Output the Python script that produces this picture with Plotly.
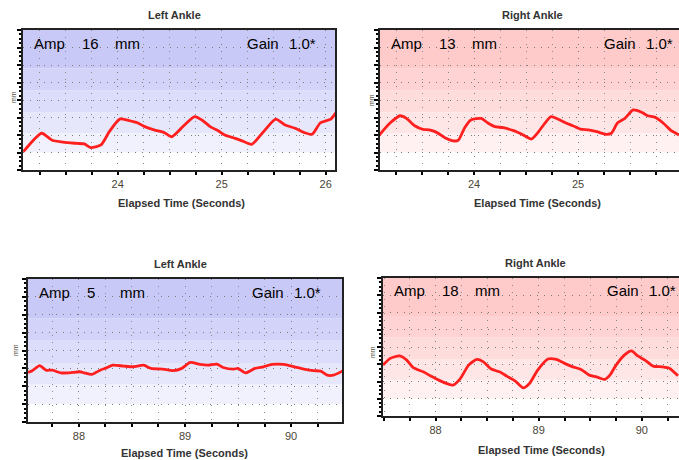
import plotly.graph_objects as go

W, H = 679, 460

# ---------------- data ----------------
t_top_left = [23.094, 23.27, 23.37, 23.52, 23.61, 23.68, 23.74, 23.84, 23.92, 24.02, 24.11, 24.19,
              24.26, 24.35, 24.45, 24.52, 24.61, 24.74, 24.81, 24.89, 24.97, 25.03, 25.13, 25.19,
              25.29, 25.39, 25.52, 25.61, 25.71, 25.79, 25.87, 25.95, 26.05, 26.11]
v_top_left = [1.05, 2.1, 1.7, 1.56, 1.52, 1.49, 1.28, 1.43, 2.19, 2.91, 2.82, 2.70,
              2.48, 2.29, 2.13, 1.90, 2.38, 3.05, 2.86, 2.48, 2.23, 2.0, 1.81, 1.68,
              1.47, 2.1, 2.91, 2.57, 2.38, 2.15, 2.04, 2.70, 2.91, 3.37]

t_top_right = [23.09, 23.19, 23.29, 23.35, 23.43, 23.51, 23.57, 23.64, 23.73, 23.80, 23.85, 23.91,
               23.97, 24.07, 24.13, 24.20, 24.28, 24.38, 24.46, 24.55, 24.60, 24.68, 24.74, 24.81,
               24.89, 24.95, 25.02, 25.10, 25.18, 25.27, 25.32, 25.38, 25.45, 25.53, 25.61, 25.67,
               25.74, 25.82, 25.90, 25.97]
v_top_right = [2.0, 2.67, 3.10, 2.95, 2.53, 2.32, 2.29, 2.15, 1.81, 1.66, 1.71, 2.42,
               2.86, 2.95, 2.70, 2.48, 2.42, 2.25, 2.04, 1.77, 2.04, 2.67, 3.05, 2.9,
               2.67, 2.53, 2.34, 2.29, 2.19, 2.04, 2.10, 2.70, 2.95, 3.43, 3.30, 3.10,
               3.01, 2.67, 2.23, 2.0]

t_bot_left = [87.52, 87.56, 87.63, 87.69, 87.75, 87.83, 87.91, 88.01, 88.05, 88.12, 88.20, 88.26,
              88.32, 88.42, 88.51, 88.61, 88.68, 88.79, 88.89, 88.97, 89.05, 89.14, 89.22, 89.30,
              89.36, 89.46, 89.50, 89.57, 89.66, 89.74, 89.82, 89.93, 90.03, 90.12, 90.21, 90.28,
              90.34, 90.40, 90.49]
v_bot_left = [2.77, 2.87, 3.15, 2.90, 2.90, 2.75, 2.75, 2.81, 2.75, 2.66, 2.90, 3.03,
              3.18, 3.13, 3.09, 3.18, 3.0, 2.96, 2.87, 3.0, 3.33, 3.22, 3.18, 3.24,
              3.05, 2.96, 3.0, 2.75, 3.0, 3.09, 3.22, 3.22, 3.09, 2.96, 2.87, 2.85,
              2.62, 2.62, 2.87]

t_bot_right = [87.49, 87.56, 87.65, 87.72, 87.78, 87.88, 87.95, 88.03, 88.11, 88.17, 88.24, 88.32,
               88.40, 88.46, 88.54, 88.62, 88.69, 88.77, 88.85, 88.91, 88.99, 89.09, 89.17, 89.25,
               89.33, 89.41, 89.49, 89.56, 89.64, 89.69, 89.75, 89.83, 89.90, 89.96, 90.03, 90.11,
               90.20, 90.27, 90.35]
v_bot_right = [2.95, 3.34, 3.48, 3.24, 2.82, 2.56, 2.33, 2.08, 1.88, 1.79, 2.17, 2.95,
               3.28, 3.15, 2.72, 2.56, 2.31, 2.04, 1.63, 1.88, 2.66, 3.30, 3.28, 3.05,
               2.85, 2.70, 2.37, 2.27, 2.12, 2.37, 2.95, 3.53, 3.77, 3.48, 3.24, 2.89,
               2.85, 2.76, 2.33]

titles = ["Left Ankle", "Right Ankle", "Left Ankle", "Right Ankle"]
amp_values = ["16", "13", "5", "18"]
gain_text = "1.0*"
x_title = "Elapsed Time (Seconds)"
y_unit = "mm"

# ---------------- layout geometry (pixels) ----------------
def px(x):
    return x / W

def py(y):
    return 1 - y / H

P = [
    dict(l=23, r=335, top=30, bot=170, xr=[23.09, 26.09], tpos=(175, 15), xtpos=(181, 203),
         ylab=(13, 97), texty=43, tone="blue", mirror_y=True, data=(t_top_left, v_top_left)),
    dict(l=380, r=679, top=30, bot=170, xr=[23.096, 25.97], tpos=(532, 15), xtpos=(537, 203),
         ylab=(372, 100), texty=43, tone="red", mirror_y=False, data=(t_top_right, v_top_right)),
    dict(l=28, r=342, top=279, bot=422, xr=[87.52, 90.48], tpos=(180, 264), xtpos=(185, 453),
         ylab=(15, 350), texty=292, tone="blue", mirror_y=True, data=(t_bot_left, v_bot_left)),
    dict(l=383, r=679, top=278, bot=416, xr=[87.49, 90.36], tpos=(535, 263), xtpos=(541, 450),
         ylab=(372, 352), texty=290, tone="red", mirror_y=False, data=(t_bot_right, v_bot_right)),
]

band_edges = [0, 1.0, 2.1, 3.3, 4.55, 5.8, 8]
blue_bands = ["#ffffff", "#f1f1fd", "#e7e7fc", "#dcdcfb", "#d3d3fa", "#c9c9f8"]
red_bands = ["#ffffff", "#fff1f1", "#ffe6e6", "#ffdcdc", "#ffd3d3", "#ffcaca"]

fig = go.Figure()
shapes = []
annotations = []
layout_axes = {}

for i, p in enumerate(P):
    n = "" if i == 0 else str(i + 1)
    xa, ya = "x" + n, "y" + n
    t, v = p["data"]
    fig.add_trace(go.Scatter(x=t, y=v, mode="lines", xaxis=xa, yaxis=ya,
                             line=dict(color="#ff1f1f", width=2.8, shape="spline", smoothing=0.6),
                             showlegend=False, hoverinfo="skip"))
    layout_axes["xaxis" + n] = dict(
        domain=[px(p["l"]), px(p["r"])], anchor=ya, range=p["xr"],
        dtick=1, tick0=0, ticks="outside", ticklen=3, tickwidth=1.5, tickcolor="#000",
        showline=True, linecolor="#222", linewidth=1.5, mirror=True,
        showgrid=True, gridcolor="#7a7a7a", griddash="1px,6px", gridwidth=1,
        minor=dict(dtick=0.25, tick0=0, ticks="outside", ticklen=3, tickcolor="#000",
                   showgrid=True, gridcolor="#8a8a8a", griddash="1px,6px", gridwidth=1),
        tickfont=dict(family="Liberation Sans, Arial", size=11, color="#4a4636"),
        zeroline=False, fixedrange=True,
    )
    layout_axes["yaxis" + n] = dict(
        domain=[py(p["bot"]), py(p["top"])], anchor=xa, range=[0, 8],
        dtick=1, tick0=0, ticks="outside", ticklen=4, tickwidth=1.5, tickcolor="#000",
        showticklabels=False,
        showline=True, linecolor="#222", linewidth=1.5, mirror=p["mirror_y"],
        showgrid=True, gridcolor="#7a7a7a", griddash="1px,6px", gridwidth=1,
        minor=dict(dtick=0.25, tick0=0, ticks="outside", ticklen=2.5, tickcolor="#000",
                   showgrid=False),
        zeroline=False, fixedrange=True,
    )
    cols = blue_bands if p["tone"] == "blue" else red_bands
    for k in range(len(cols)):
        shapes.append(dict(type="rect", xref=xa + " domain", yref=ya,
                           x0=0, x1=1, y0=band_edges[k], y1=band_edges[k + 1],
                           fillcolor=cols[k], line=dict(width=0), layer="below"))
    annotations.append(dict(text="<b>" + titles[i] + "</b>", x=px(p["tpos"][0]), y=py(p["tpos"][1]),
                            xref="paper", yref="paper", xanchor="center", yanchor="middle",
                            showarrow=False, font=dict(family="Liberation Sans, Arial", size=11, color="#333")))
    annotations.append(dict(text="<b>" + x_title + "</b>", x=px(p["xtpos"][0]), y=py(p["xtpos"][1]),
                            xref="paper", yref="paper", xanchor="center", yanchor="middle",
                            showarrow=False, font=dict(family="Liberation Sans, Arial", size=11, color="#333")))
    annotations.append(dict(text=y_unit, x=px(p["ylab"][0]), y=py(p["ylab"][1]), textangle=-90,
                            xref="paper", yref="paper", xanchor="center", yanchor="middle",
                            showarrow=False, font=dict(family="Liberation Sans, Arial", size=7, color="#4a4636")))
    words = [("Amp", 9), (amp_values[i], 57), ("mm", 90), ("Gain", 222), (gain_text, 264)]
    for w, off in words:
        annotations.append(dict(text=w, x=px(p["l"] + off), y=py(p["texty"]),
                                xref="paper", yref="paper", xanchor="left", yanchor="middle",
                                showarrow=False,
                                font=dict(family="Liberation Sans, Arial", size=15, color="#000")))

fig.update_layout(
    width=W, height=H, margin=dict(l=0, r=0, t=0, b=0),
    paper_bgcolor="white", plot_bgcolor="white",
    shapes=shapes, annotations=annotations, **layout_axes,
)

fig.write_html("out.html", config={"displayModeBar": False},
               post_script="document.body.style.margin='0';document.body.style.overflow='hidden';")
